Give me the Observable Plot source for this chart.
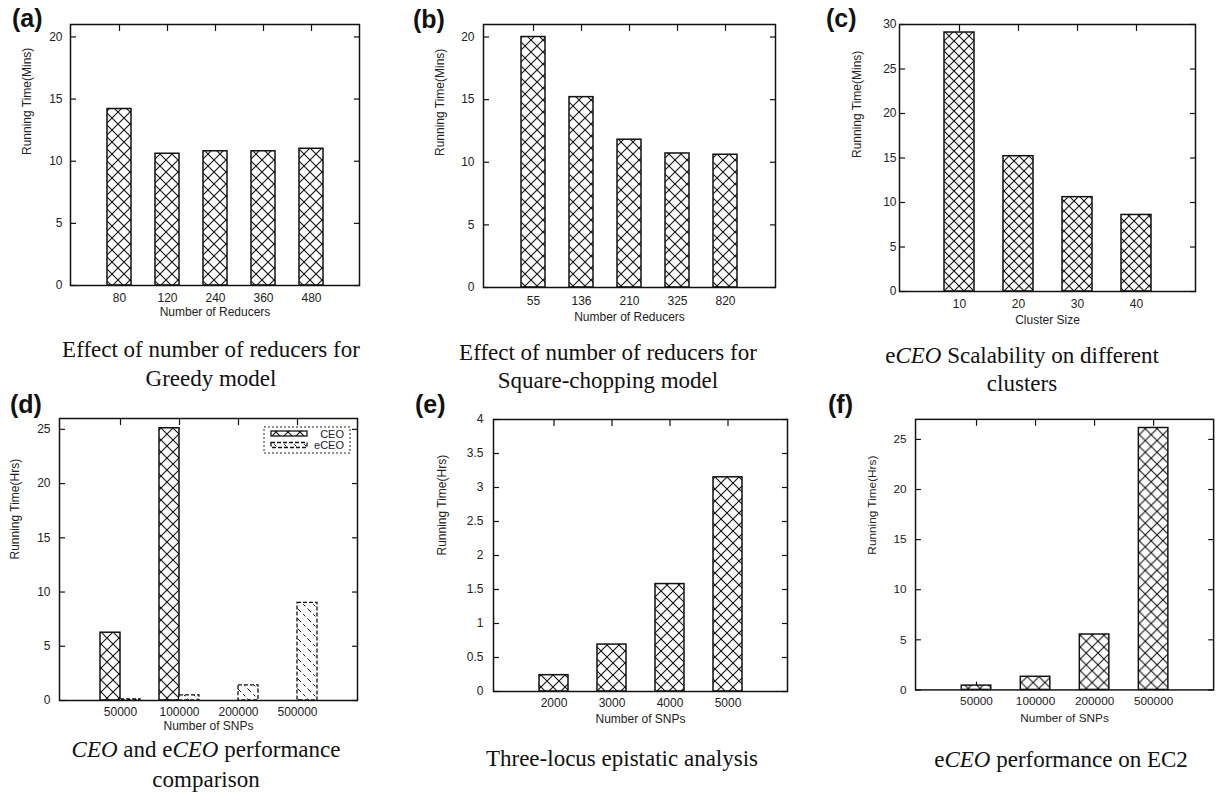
<!DOCTYPE html>
<html><head><meta charset="utf-8">
<script src="https://cdn.jsdelivr.net/npm/d3@7"></script>
<script src="https://cdn.jsdelivr.net/npm/@observablehq/plot@0.6"></script>
<style>
body{margin:0;background:#fff;}
#root{position:relative;width:1221px;height:798px;overflow:hidden;background:#fff;}
.panel{position:absolute;}
.panel svg{overflow:visible;}
#overlay{position:absolute;left:0;top:0;pointer-events:none;}
</style></head><body>
<svg width="0" height="0" style="position:absolute">
<defs>
<pattern id="cross12" patternUnits="userSpaceOnUse" width="12" height="12">
<rect width="12" height="12" fill="#fff"/>
<path d="M0,0L12,12M12,0L0,12" stroke="#111" stroke-width="1.1"/>
</pattern>
<pattern id="cross10" patternUnits="userSpaceOnUse" width="10" height="10">
<rect width="10" height="10" fill="#fff"/>
<path d="M0,0L10,10M10,0L0,10" stroke="#111" stroke-width="1.1"/>
</pattern>
<pattern id="diag" patternUnits="userSpaceOnUse" width="10" height="10">
<rect width="10" height="10" fill="#fff"/>
<path d="M0,0L10,10M-5,5L5,15M5,-5L15,5" stroke="#111" stroke-width="1" stroke-dasharray="3,3"/>
</pattern>
</defs>
</svg>
<div id="root"></div>
<script>
// ---------- data ----------
const aCats = ["80", "120", "240", "360", "480"];
const aVals = [14.2, 10.6, 10.8, 10.8, 11.0];
const aYTicks = [0, 5, 10, 15, 20];

const bCats = ["55", "136", "210", "325", "820"];
const bVals = [20.0, 15.2, 11.8, 10.7, 10.6];
const bYTicks = [0, 5, 10, 15, 20];

const cCats = ["10", "20", "30", "40"];
const cVals = [29.1, 15.2, 10.6, 8.6];
const cYTicks = [0, 5, 10, 15, 20, 25, 30];

const dCats = ["50000", "100000", "200000", "500000"];
const dSeries = ["CEO", "eCEO"];
const dCEO = [6.25, 25.1, null, null];
const dECEO = [0.1, 0.48, 1.4, 9.0];
const dYTicks = [0, 5, 10, 15, 20, 25];

const eCats = ["2000", "3000", "4000", "5000"];
const eVals = [0.24, 0.69, 1.58, 3.15];
const eYTicks = [0, 0.5, 1, 1.5, 2, 2.5, 3, 3.5, 4];

const fCats = ["50000", "100000", "200000", "500000"];
const fVals = [0.43, 1.31, 5.53, 26.14];
const fErrHi = [0.78, null, null, null];
const fYTicks = [0, 5, 10, 15, 20, 25];

const yLabelMins = "Running Time(Mins)";
const yLabelHrs = "Running Time(Hrs)";

// ---------- helpers ----------
const root = document.getElementById("root");
const SANS = "'Liberation Sans', Arial, Helvetica, sans-serif";
const SERIF = "'Liberation Serif', 'Times New Roman', Times, serif";

function makePanel(cfg) {
  const m = {l: 60, r: 8, t: 8, b: 50};
  const W = cfg.R - cfg.L, H = cfg.B - cfg.T;
  const marks = [
    ...cfg.bars,
    Plot.frame({stroke: "#111", strokeWidth: 1.5}),
    Plot.axisY(cfg.yTicks, {anchor: "left", tickSize: 0, tickPadding: cfg.yPad, label: null, tickFormat: d => String(d), fill: "#222"}),
    Plot.axisY(cfg.yTicks, {anchor: "left", tickSize: 6, dx: 6, label: null, tickFormat: () => "", stroke: "#111", strokeWidth: 1.2}),
    Plot.axisY(cfg.yTicks, {anchor: "right", tickSize: 6, dx: -6, label: null, tickFormat: () => "", stroke: "#111", strokeWidth: 1.2}),
    Plot.axisX({anchor: "top", tickSize: 6, dy: 6, label: null, tickFormat: () => "", stroke: "#111", strokeWidth: 1.2}),
    Plot.axisX({anchor: "bottom", tickSize: 0, tickPadding: cfg.xPad, label: null, fill: "#222"}),
    Plot.text([cfg.yLabel], {text: d => d, frameAnchor: "left", rotate: -90, dx: cfg.yLabelDx, fill: "#222", fontSize: 12}),
    Plot.text([cfg.xLabel], {text: d => d, frameAnchor: "bottom", dy: cfg.xLabelDy, fill: "#222", fontSize: 12})
  ];
  const svg = Plot.plot({
    width: W + m.l + m.r, height: H + m.t + m.b,
    marginLeft: m.l, marginRight: m.r, marginTop: m.t, marginBottom: m.b,
    style: {fontFamily: SANS, fontSize: "12px", color: "#222", background: "transparent", overflow: "visible"},
    x: {type: "band", domain: cfg.cats, paddingInner: cfg.pi, paddingOuter: cfg.po, align: 0.5},
    y: {domain: [0, cfg.yMax]},
    marks
  });
  const div = document.createElement("div");
  div.className = "panel";
  div.style.left = (cfg.L - m.l) + "px";
  div.style.top = (cfg.T - m.t) + "px";
  div.append(svg);
  root.append(div);
}

function rows(cats, vals) {
  return cats.map((c, i) => ({cat: c, v: vals[i]})).filter(d => d.v != null);
}
function crossBars(cats, vals, pat) {
  return [Plot.barY(rows(cats, vals), {x: "cat", y: "v", fill: `url(#${pat})`, stroke: "#111", strokeWidth: 1.5})];
}

// (a)
makePanel({cats: aCats, bars: crossBars(aCats, aVals, "cross12"), yTicks: aYTicks, yMax: 21,
  L: 70, R: 359, T: 24, B: 285, pi: 0.5, po: 0.75, yPad: 8, xPad: 8,
  yLabel: yLabelMins, xLabel: "Number of Reducers", yLabelDx: -43, xLabelDy: 30});
// (b)
makePanel({cats: bCats, bars: crossBars(bCats, bVals, "cross12"), yTicks: bYTicks, yMax: 21,
  L: 483, R: 775, T: 24, B: 287, pi: 0.5, po: 0.75, yPad: 9, xPad: 9,
  yLabel: yLabelMins, xLabel: "Number of Reducers", yLabelDx: -43, xLabelDy: 33});
// (c)
makePanel({cats: cCats, bars: crossBars(cCats, cVals, "cross10"), yTicks: cYTicks, yMax: 30,
  L: 899, R: 1195, T: 24, B: 291, pi: 0.5, po: 0.75, yPad: 3, xPad: 8,
  yLabel: yLabelMins, xLabel: "Cluster Size", yLabelDx: -42, xLabelDy: 32});
// (d)
makePanel({cats: dCats, bars: [
    Plot.barY(rows(dCats, dCEO), {x: "cat", y: "v", insetRight: 20, fill: "url(#cross12)", stroke: "#111", strokeWidth: 1.5}),
    Plot.barY(rows(dCats, dECEO), {x: "cat", y: "v", insetLeft: 20, fill: "url(#diag)", stroke: "#111", strokeWidth: 1.3, strokeDasharray: "4,2"})
  ], yTicks: dYTicks, yMax: 26,
  L: 59, R: 357, T: 418, B: 700, pi: 0.328, po: 0.664, yPad: 9, xPad: 7,
  yLabel: yLabelHrs, xLabel: "Number of SNPs", yLabelDx: -44, xLabelDy: 29});
// (e)
makePanel({cats: eCats, bars: crossBars(eCats, eVals, "cross12"), yTicks: eYTicks, yMax: 4,
  L: 493, R: 787, T: 419, B: 691, pi: 0.5, po: 0.75, yPad: 10, xPad: 7,
  yLabel: yLabelHrs, xLabel: "Number of SNPs", yLabelDx: -51, xLabelDy: 31});
// (f)
makePanel({cats: fCats, bars: [
    ...crossBars(fCats, fVals, "cross12"),
    Plot.ruleX(fCats.map((c, i) => ({cat: c, lo: fVals[i], hi: fErrHi[i]})).filter(d => d.hi != null),
      {x: "cat", y1: "lo", y2: "hi", stroke: "#111", strokeWidth: 1.2})
  ], yTicks: fYTicks, yMax: 27,
  L: 916, R: 1219, T: 419, B: 694, pi: 0.5, po: 0.75, yPad: 9, xPad: 7,
  yLabel: yLabelHrs, xLabel: "Number of SNPs", yLabelDx: -44, xLabelDy: 33});

// ---------- overlay: panel letters, legend, captions ----------
const ov = d3.select(root).append("svg").attr("id", "overlay").attr("width", 1221).attr("height", 798);

const letters = [
  {t: "(a)", x: 12, y: 26.5}, {t: "(b)", x: 413, y: 28}, {t: "(c)", x: 826, y: 26.5},
  {t: "(d)", x: 10, y: 413}, {t: "(e)", x: 415, y: 413}, {t: "(f)", x: 828, y: 413}
];
ov.selectAll("text.letter").data(letters).join("text").attr("class", "letter")
  .attr("x", d => d.x).attr("y", d => d.y).attr("font-family", SANS).attr("font-weight", "bold")
  .attr("font-size", 25).attr("fill", "#111").text(d => d.t);

// legend for (d)
const lg = ov.append("g");
lg.append("rect").attr("x", 264).attr("y", 427).attr("width", 86).attr("height", 26)
  .attr("fill", "#fff").attr("stroke", "#222").attr("stroke-width", 1).attr("stroke-dasharray", "2,2");
const lgStyle = [{fill: "url(#cross12)", dash: null}, {fill: "url(#diag)", dash: "4,2"}];
dSeries.forEach((s, i) => {
  lg.append("rect").attr("x", 271).attr("y", 431 + i * 11.5).attr("width", 36).attr("height", 5)
    .attr("fill", lgStyle[i].fill).attr("stroke", "#111").attr("stroke-width", 1.3)
    .attr("stroke-dasharray", lgStyle[i].dash);
  lg.append("text").attr("x", 344).attr("y", 437.5 + i * 11.5).attr("text-anchor", "end")
    .attr("font-family", SANS).attr("font-size", 11).attr("fill", "#222").text(s);
});

// captions
const captions = [
  {x: 211, y: 357, parts: [["Effect of number of reducers for", false]]},
  {x: 211, y: 386, parts: [["Greedy model", false]]},
  {x: 608, y: 360, parts: [["Effect of number of reducers for", false]]},
  {x: 608, y: 388, parts: [["Square-chopping model", false]]},
  {x: 1022, y: 363, parts: [["e", false], ["CEO", true], [" Scalability on different", false]]},
  {x: 1022, y: 391, parts: [["clusters", false]]},
  {x: 206, y: 757, parts: [["CEO", true], [" and e", false], ["CEO", true], [" performance", false]]},
  {x: 206, y: 787, parts: [["comparison", false]]},
  {x: 622, y: 766, parts: [["Three-locus epistatic analysis", false]]},
  {x: 1061, y: 767, parts: [["e", false], ["CEO", true], [" performance on EC2", false]]}
];
captions.forEach(c => {
  const t = ov.append("text").attr("x", c.x).attr("y", c.y).attr("text-anchor", "middle")
    .attr("font-family", SERIF).attr("font-size", 23).attr("fill", "#111");
  c.parts.forEach(([s, it]) => t.append("tspan").attr("font-style", it ? "italic" : "normal").text(s));
});
</script>
</body></html>
